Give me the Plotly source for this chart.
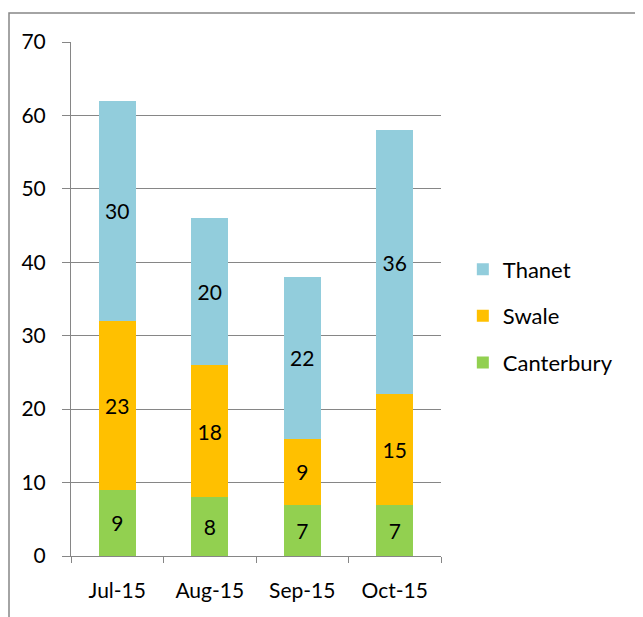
import plotly.graph_objects as go

months = ["Jul-15", "Aug-15", "Sep-15", "Oct-15"]
canterbury = [9, 8, 7, 7]
swale = [23, 18, 9, 15]
thanet = [30, 20, 22, 36]
y_ticks = [0, 10, 20, 30, 40, 50, 60, 70]

FONT = "Lato, Carlito, Calibri, sans-serif"

fig = go.Figure()
series = [("Canterbury", canterbury, "#92D050", 3),
          ("Swale", swale, "#FFC000", 2),
          ("Thanet", thanet, "#92CDDC", 1)]
for name, vals, col, rank in series:
    fig.add_trace(go.Bar(
        x=months, y=vals, name=name, marker=dict(color=col, line=dict(width=0)),
        text=[str(v) for v in vals], textposition="inside", insidetextanchor="middle",
        textangle=0, textfont=dict(color="black", size=21, family=FONT),
        legendgroup=name, legendrank=rank, width=0.4,
    ))

fig.update_layout(
    width=643, height=617,
    barmode="stack",
    paper_bgcolor="white", plot_bgcolor="white",
    margin=dict(l=63, r=210, t=34, b=69),
    font=dict(family=FONT, size=21, color="black"),
    showlegend=True,
    legend=dict(x=1.059, y=0.467, xanchor="left", yanchor="middle",
                traceorder="grouped", tracegroupgap=15,
                font=dict(size=22), itemwidth=30),
    uniformtext=dict(mode=False),
)
fig.update_xaxes(
    type="category", showline=True, linecolor="#868686", linewidth=1,
    ticks="outside", tickson="boundaries", ticklen=6, tickcolor="#868686",
    showgrid=False, tickfont=dict(size=21), ticklabelstandoff=16,
)
fig.update_yaxes(
    range=[0, 70], tickvals=y_ticks, showline=True, linecolor="#868686", linewidth=1,
    ticks="outside", ticklen=8, tickcolor="#868686",
    showgrid=True, gridcolor="#868686", gridwidth=1,
    tickfont=dict(size=21), zeroline=False, ticklabelstandoff=12,
)
fig.add_shape(type="rect", xref="paper", yref="paper",
              x0=(1 - 63) / 370, x1=2, y0=-1, y1=(548 - 5) / 514,
              line=dict(color="#868686", width=1.5), fillcolor="rgba(0,0,0,0)", layer="below")

fig.write_html("out.html")
